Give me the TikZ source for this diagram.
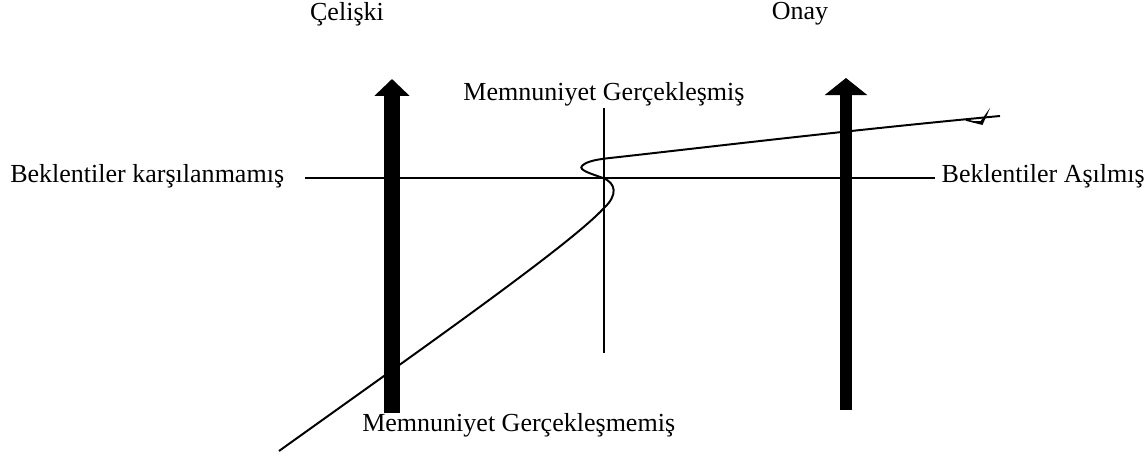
\documentclass[tikz,border=0pt]{standalone}
\usepackage{fontspec}
\setmainfont{Liberation Serif}
\usetikzlibrary{arrows.meta}

\begin{document}
\begin{tikzpicture}[x=0.025cm,y=-0.025cm,>=latex,
  lbl/.style={inner sep=0pt,font=\fontsize{18.5}{22}\selectfont},
  bigarrow/.style={line width=0.42cm,-{Triangle[length=0.42cm,width=0.85cm]}}]
\useasboundingbox (0,0) rectangle (1147,455);
\coordinate (L) at (305,178);
\coordinate (R) at (935,178);
\coordinate (T) at (604,108);
\coordinate (B) at (604,353);
  \node[lbl] (celiski) at (347,14) {Çelişki};
  \node[lbl] (onay) at (800,14) {Onay};
  \node[lbl] (gerc) at (604,94) {Memnuniyet Gerçekleşmiş};
  \node[lbl,anchor=west] (gercm) at (362,425) {Memnuniyet Gerçekleşmemiş};
  \node[lbl,anchor=west] (karsi) at (10,176) {Beklentiler karşılanmamış};
  \node[lbl,anchor=east] (asil) at (1145,176) {Beklentiler Aşılmış};
  \draw[line width=1.4pt] (L) -- (R);
  \draw[line width=1.4pt] (T) -- (B);
  %%%%%%%%%%%%%%%% thick arrows
  \draw[bigarrow] (392,413) -- (392,79);
  \draw[bigarrow,line width=0.32cm,-{Triangle[length=0.43cm,width=1.05cm]}] (846,410) -- (846,78);
  %%%%%%%%%%%%%%%% curve
  \draw[line width=1.4pt] (279,451) .. controls (420,350) and (570,245) .. (604,208)
    .. controls (618,195) and (616,183) .. (603,178)
    .. controls (592,174) and (578,170) .. (582,166)
    .. controls (586,161) and (600,159) .. (610,158)
    .. controls (700,148) and (850,130) .. (1000,116);
  \draw[line width=1.2pt] (966,120) -- (982,124) -- (986,115) -- (981,122) -- (973,122);
\end{tikzpicture}
\end{document}
